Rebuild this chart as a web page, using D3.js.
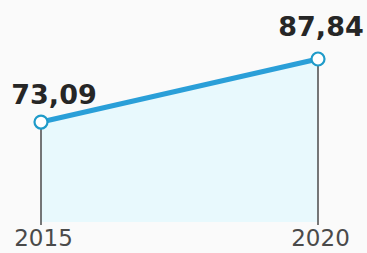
<!DOCTYPE html>
<html><head><meta charset="utf-8">
<script src="https://cdn.jsdelivr.net/npm/d3@7"></script>
<style>html,body{margin:0;padding:0;background:#fafafa;}svg{display:block;}</style>
</head><body>
<svg id="c" width="367" height="253"></svg>
<script>
const years = ["2015", "2020"];
const values = [73.09, 87.84];
const valueLabels = ["73,09", "87,84"];

const svg = d3.select("#c");
const W = 367, H = 253;
svg.append("rect").attr("width", W).attr("height", H).attr("fill", "#fafafa");

const x = d3.scalePoint().domain(years).range([41, 318]);
const y = d3.scaleLinear().domain([49, 87.84]).range([225, 59]);

const data = years.map((yr, i) => ({yr, v: values[i], lab: valueLabels[i]}));

// area
svg.append("path").datum(data)
  .attr("d", d3.area().x(d => x(d.yr)).y0(y(49.7)).y1(d => y(d.v)))
  .attr("fill", "#e8f9fd");

// vertical stems
svg.selectAll(".stem").data(data).enter().append("line")
  .attr("x1", d => x(d.yr)).attr("x2", d => x(d.yr))
  .attr("y1", d => y(d.v)).attr("y2", y(49))
  .attr("stroke", "#555").attr("stroke-width", 1.6);

// line
svg.append("path").datum(data)
  .attr("d", d3.line().x(d => x(d.yr)).y(d => y(d.v)))
  .attr("stroke", "#2a9fd8").attr("stroke-width", 5).attr("fill", "none");

// points
svg.selectAll(".pt").data(data).enter().append("circle")
  .attr("cx", d => x(d.yr)).attr("cy", d => y(d.v)).attr("r", 6.5)
  .attr("fill", "#fff").attr("stroke", "#1f9bc9").attr("stroke-width", 2.2);

// value labels
svg.selectAll(".vl").data(data).enter().append("text")
  .attr("x", (d, i) => i === 0 ? x(d.yr) + 13 : x(d.yr) + 3)
  .attr("y", (d, i) => i === 0 ? y(d.v) - 18 : y(d.v) - 23)
  .attr("text-anchor", "middle")
  .attr("font-family", "DejaVu Sans, sans-serif").attr("font-weight", "bold")
  .attr("font-size", 27).attr("fill", "#262626")
  .text(d => d.lab);

// axis year labels
const xAxis = d3.axisBottom(x).tickSize(0).tickPadding(0);
const ax = svg.append("g").attr("transform", "translate(0,246)").call(xAxis);
ax.select(".domain").remove();
ax.selectAll("text").attr("font-family", "DejaVu Sans, sans-serif")
  .attr("font-size", 23).attr("fill", "#4a4a4a").attr("dy", 0)
  .attr("dx", 2);
</script>
</body></html>
